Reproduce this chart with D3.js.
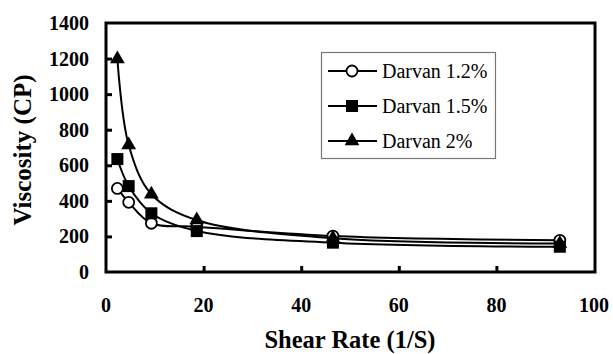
<!DOCTYPE html>
<html>
<head>
<meta charset="utf-8">
<script src="https://cdn.jsdelivr.net/npm/d3@7"></script>
<style>
  html, body { margin: 0; padding: 0; background: #fff; }
  svg { display: block; }
</style>
</head>
<body>
<svg id="chart" width="613" height="354"></svg>
<script>
// ---- data ----
const shearRate = [2.33, 4.65, 9.3, 18.6, 46.5, 93];
const darvan12 = [470, 392, 274, 255, 202, 178];
const darvan15 = [635, 483, 330, 230, 165, 142];
const darvan20 = [1198, 714, 437, 292, 190, 160];
const seriesNames = ["Darvan 1.2%", "Darvan 1.5%", "Darvan 2%"];
const xTicks = [0, 20, 40, 60, 80, 100];
const yTicks = [0, 200, 400, 600, 800, 1000, 1200, 1400];

const series = [
  { name: seriesNames[0], values: darvan12, marker: "circle" },
  { name: seriesNames[1], values: darvan15, marker: "square" },
  { name: seriesNames[2], values: darvan20, marker: "triangle" }
];

const svg = d3.select("#chart");
const L = 106, R = 594, T = 23, B = 272;
const x = d3.scaleLinear().domain([0, 100]).range([L, R]);
const y = d3.scaleLinear().domain([0, 1400]).range([B, T]);

svg.append("rect").attr("width", 613).attr("height", 354).attr("fill", "#fff");

// inside ticks
const yAxis = d3.axisRight(y).tickValues(yTicks.filter(v => v > 0 && v < 1400)).tickSize(6).tickFormat("");
const gy = svg.append("g").attr("transform", `translate(${L},0)`).call(yAxis);
const xAxis = d3.axisTop(x).tickValues(xTicks.filter(v => v > 0 && v < 100)).tickSize(6).tickFormat("");
const gx = svg.append("g").attr("transform", `translate(0,${B})`).call(xAxis);
[gx, gy].forEach(g => {
  g.select(".domain").remove();
  g.selectAll("line").attr("stroke", "#000").attr("stroke-width", 3);
});

// tick labels
svg.append("g").selectAll("text").data(yTicks).join("text")
  .attr("x", 89).attr("y", d => y(d)).attr("dy", "0.35em")
  .attr("text-anchor", "end")
  .attr("font-family", "Liberation Serif, Times New Roman, serif")
  .attr("font-weight", "bold").attr("font-size", 20)
  .text(d => d);
svg.append("g").selectAll("text").data(xTicks).join("text")
  .attr("x", d => x(d)).attr("y", 305).attr("dy", "0.35em")
  .attr("text-anchor", "middle")
  .attr("font-family", "Liberation Serif, Times New Roman, serif")
  .attr("font-weight", "bold").attr("font-size", 20)
  .text(d => d);

// axis titles
svg.append("text").attr("x", 350).attr("y", 339).attr("dy", "0.35em")
  .attr("text-anchor", "middle")
  .attr("font-family", "Liberation Serif, Times New Roman, serif")
  .attr("font-weight", "bold").attr("font-size", 24.5)
  .text("Shear Rate (1/S)");
svg.append("text")
  .attr("transform", "translate(22,150) rotate(-90)").attr("dy", "0.35em")
  .attr("text-anchor", "middle")
  .attr("font-family", "Liberation Serif, Times New Roman, serif")
  .attr("font-weight", "bold").attr("font-size", 25)
  .text("Viscosity (CP)");

// lines
const line = d3.line().x(d => x(d[0])).y(d => y(d[1])).curve(d3.curveCatmullRom.alpha(0.5));
series.forEach(s => {
  svg.append("path")
    .datum(shearRate.map((r, i) => [r, s.values[i]]))
    .attr("d", line).attr("fill", "none").attr("stroke", "#000").attr("stroke-width", 2);
});

function drawMarker(g, type, cx, cy) {
  if (type === "circle") {
    g.append("circle").attr("cx", cx).attr("cy", cy).attr("r", 5.5)
      .attr("fill", "#fff").attr("stroke", "#000").attr("stroke-width", 1.8);
  } else if (type === "square") {
    g.append("rect").attr("x", cx - 6).attr("y", cy - 6).attr("width", 12).attr("height", 12).attr("fill", "#000");
  } else {
    g.append("path").attr("d", d3.symbol(d3.symbolTriangle, 95)()).attr("transform", `translate(${cx},${cy})`).attr("fill", "#000");
  }
}

const mg = svg.append("g");
series.forEach(s => {
  shearRate.forEach((r, i) => drawMarker(mg, s.marker, x(r), y(s.values[i])));
});

// frame
svg.append("rect").attr("x", L).attr("y", T).attr("width", R - L + 1).attr("height", B - T)
  .attr("fill", "none").attr("stroke", "#000").attr("stroke-width", 3);

// legend
const lg = svg.append("g");
lg.append("rect").attr("x", 321.5).attr("y", 52.5).attr("width", 174).attr("height", 106)
  .attr("fill", "#fff").attr("stroke", "#777").attr("stroke-width", 1.2);
series.forEach((s, i) => {
  const cy = 71 + i * 35;
  lg.append("line").attr("x1", 328).attr("x2", 377).attr("y1", cy).attr("y2", cy)
    .attr("stroke", "#000").attr("stroke-width", 2);
  drawMarker(lg, s.marker, 352, cy);
  lg.append("text").attr("x", 382).attr("y", cy).attr("dy", "0.35em")
    .attr("font-family", "Liberation Serif, Times New Roman, serif")
    .attr("font-size", 20).text(s.name);
});
</script>
</body>
</html>
